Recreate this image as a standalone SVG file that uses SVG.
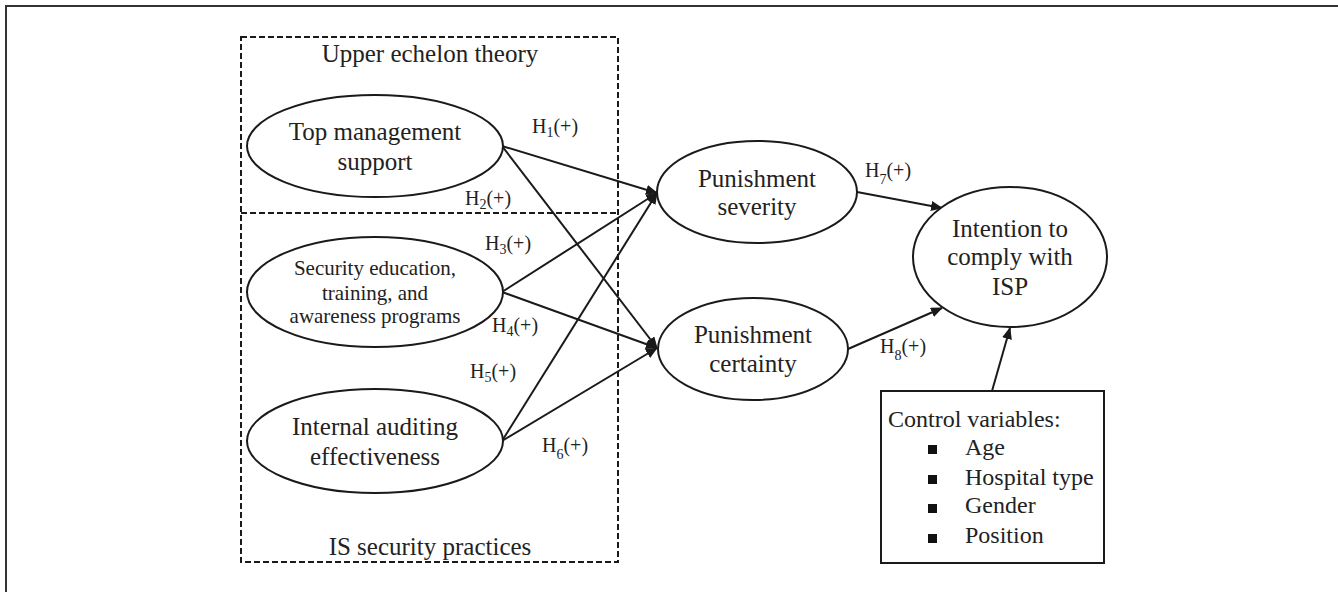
<svg xmlns="http://www.w3.org/2000/svg" width="1338" height="592" viewBox="0 0 1338 592">
<defs>
<marker id="arr" markerWidth="12" markerHeight="10" refX="11" refY="5" orient="auto" markerUnits="userSpaceOnUse">
<path d="M0,0 L12,5 L0,10 z" fill="#1a1a1a"/>
</marker>
<style>
text{font-family:"Liberation Serif","Times New Roman",serif;fill:#222;}
.t{font-size:25px;text-anchor:middle;}
.s{font-size:21px;text-anchor:middle;}
.h{font-size:20px;}
.sub{font-size:14px;}
ellipse{fill:#fff;stroke:#1a1a1a;stroke-width:2;}
.dash{fill:none;stroke:#1a1a1a;stroke-width:2;stroke-dasharray:6,3;}
.c{stroke:#1a1a1a;stroke-width:2;fill:none;marker-end:url(#arr);}
</style>
</defs>
<rect width="1338" height="592" fill="#fff"/>
<path d="M6,592 V6 H1338" fill="none" stroke="#333" stroke-width="2"/>
<g id="groups">
<rect class="dash" x="241" y="37" width="377" height="525"/>
<line class="dash" x1="241" y1="213" x2="618" y2="213"/>
<text class="t" x="430" y="62">Upper echelon theory</text>
<text class="t" x="430" y="555">IS security practices</text>
</g>
<g id="connectors">
<line class="c" x1="502" y1="146" x2="657" y2="193"/>
<line class="c" x1="502" y1="146" x2="657" y2="348"/>
<line class="c" x1="502" y1="292" x2="657" y2="193"/>
<line class="c" x1="502" y1="292" x2="657" y2="348"/>
<line class="c" x1="502" y1="441" x2="657" y2="193"/>
<line class="c" x1="502" y1="441" x2="657" y2="348"/>
<line class="c" x1="857" y1="192" x2="942" y2="208"/>
<line class="c" x1="848" y1="349" x2="942" y2="308"/>
<line class="c" x1="992" y1="391" x2="1010" y2="328"/>
<text class="h" x="532" y="133">H<tspan class="sub" dy="4">1</tspan><tspan dy="-4">(+)</tspan></text>
<text class="h" x="465" y="205">H<tspan class="sub" dy="4">2</tspan><tspan dy="-4">(+)</tspan></text>
<text class="h" x="485" y="250">H<tspan class="sub" dy="4">3</tspan><tspan dy="-4">(+)</tspan></text>
<text class="h" x="492" y="332">H<tspan class="sub" dy="4">4</tspan><tspan dy="-4">(+)</tspan></text>
<text class="h" x="470" y="378">H<tspan class="sub" dy="4">5</tspan><tspan dy="-4">(+)</tspan></text>
<text class="h" x="542" y="452">H<tspan class="sub" dy="7">6</tspan><tspan dy="-7">(+)</tspan></text>
<text class="h" x="865" y="177">H<tspan class="sub" dy="7">7</tspan><tspan dy="-7">(+)</tspan></text>
<text class="h" x="880" y="353">H<tspan class="sub" dy="7">8</tspan><tspan dy="-7">(+)</tspan></text>
</g>
<g id="top-management">
<ellipse cx="375" cy="146" rx="128" ry="51"/>
<text class="t" x="375" y="140">Top management</text>
<text class="t" x="375" y="170">support</text>
</g>
<g id="seta">
<ellipse cx="375" cy="292" rx="128" ry="55"/>
<text class="s" x="375" y="275">Security education,</text>
<text class="s" x="375" y="300">training, and</text>
<text class="s" x="375" y="323">awareness programs</text>
</g>
<g id="internal-auditing">
<ellipse cx="375" cy="441" rx="128" ry="52"/>
<text class="t" x="375" y="435">Internal auditing</text>
<text class="t" x="375" y="465">effectiveness</text>
</g>
<g id="severity">
<ellipse cx="757" cy="192" rx="100" ry="51"/>
<text class="t" x="757" y="187">Punishment</text>
<text class="t" x="757" y="215">severity</text>
</g>
<g id="certainty">
<ellipse cx="753" cy="349" rx="95" ry="51"/>
<text class="t" x="753" y="343">Punishment</text>
<text class="t" x="753" y="372">certainty</text>
</g>
<g id="intention">
<ellipse cx="1010" cy="257" rx="97" ry="70"/>
<text class="t" x="1010" y="237">Intention to</text>
<text class="t" x="1010" y="265">comply with</text>
<text class="t" x="1010" y="295">ISP</text>
</g>
<g id="controls">
<rect x="881" y="391" width="223" height="172" fill="#fff" stroke="#1a1a1a" stroke-width="2"/>
<text x="888" y="427" style="font-size:24px">Control variables:</text>
<rect x="928" y="445" width="9" height="9" fill="#111"/>
<rect x="928" y="475" width="9" height="9" fill="#111"/>
<rect x="928" y="504" width="9" height="9" fill="#111"/>
<rect x="928" y="534" width="9" height="9" fill="#111"/>
<text x="965" y="455" style="font-size:24px">Age</text>
<text x="965" y="485" style="font-size:24px">Hospital type</text>
<text x="965" y="513" style="font-size:24px">Gender</text>
<text x="965" y="543" style="font-size:24px">Position</text>
</g>
</svg>
